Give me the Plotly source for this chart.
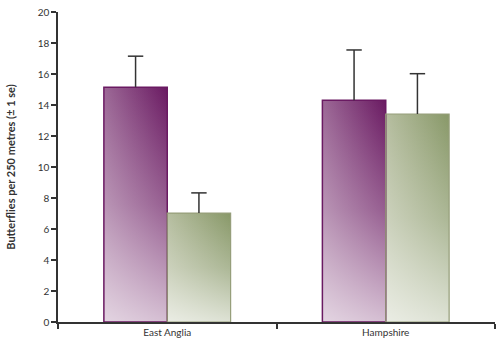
import plotly.graph_objects as go

# ---- data ----
categories = ["East Anglia", "Hampshire"]
series_a = [15.15, 14.3]      # purple bars
series_a_se = [2.0, 3.25]
series_b = [7.03, 13.42]      # green bars
series_b_se = [1.3, 2.6]
y_ticks = [0, 2, 4, 6, 8, 10, 12, 14, 16, 18, 20]

# ---- style ----
BARGAP = 0.42
bar_w = (1 - BARGAP) / 2
purple_dark = "rgb(106,26,98)"
purple_light = "rgb(156,104,150)"
green_dark = "rgb(136,152,104)"
green_light = "rgb(182,190,160)"
font_family = "Lato, 'Open Sans', sans-serif"
axis_col = "#333333"

fig = go.Figure()

x_pos = list(range(len(categories)))

def grad_bar(xc, offset, val, light, dark):
    x0 = xc + offset
    x1 = x0 + bar_w
    xs = [x0, x1, x1, x0, x0]
    ys = [0, 0, val, val, 0]
    fig.add_trace(go.Scatter(
        x=xs, y=ys, mode="lines", fill="toself", line=dict(width=0),
        fillgradient=dict(type="horizontal", colorscale=[[0, light], [1, dark]]),
        hoverinfo="skip", showlegend=False))
    fig.add_trace(go.Scatter(
        x=xs, y=ys, mode="lines", fill="toself", line=dict(width=0),
        fillgradient=dict(type="vertical", colorscale=[
            [0, "rgba(255,255,255,0.72)"], [0.5, "rgba(255,255,255,0.3)"],
            [1, "rgba(255,255,255,0)"]]),
        hoverinfo="skip", showlegend=False))

for i, xc in enumerate(x_pos):
    grad_bar(xc, -bar_w, series_a[i], purple_light, purple_dark)
    grad_bar(xc, 0, series_b[i], green_light, green_dark)

# bar outlines and error stems on overlaying axes (drawn on top)
fig.add_trace(go.Bar(
    x=x_pos, y=series_a, xaxis="x2", yaxis="y2",
    marker=dict(color="rgba(0,0,0,0)", line=dict(color=purple_dark, width=1.5)),
    error_y=dict(type="data", array=series_a_se, arrayminus=[0] * len(series_a),
                 symmetric=False, color=axis_col, thickness=1.5, width=0),
    showlegend=False, hoverinfo="skip"))
fig.add_trace(go.Bar(
    x=x_pos, y=series_b, xaxis="x2", yaxis="y2",
    marker=dict(color="rgba(0,0,0,0)", line=dict(color="rgb(150,158,122)", width=1.2)),
    error_y=dict(type="data", array=series_b_se, arrayminus=[0] * len(series_b),
                 symmetric=False, color=axis_col, thickness=1.5, width=0),
    showlegend=False, hoverinfo="skip"))

# caps at top of error bars only
cap_x = [xc - bar_w / 2 for xc in x_pos] + [xc + bar_w / 2 for xc in x_pos]
cap_y = [v + s for v, s in zip(series_a, series_a_se)] + \
        [v + s for v, s in zip(series_b, series_b_se)]
fig.add_trace(go.Scatter(
    x=cap_x, y=cap_y, xaxis="x2", yaxis="y2", mode="markers",
    marker=dict(symbol="line-ew", size=11, line=dict(color=axis_col, width=1.5)),
    showlegend=False, hoverinfo="skip"))

xr = [-0.5, len(categories) - 0.5]
yr = [0, 20]

fig.update_layout(
    width=500, height=347,
    margin=dict(l=58, r=5, t=8, b=25),
    paper_bgcolor="white", plot_bgcolor="white",
    barmode="group", bargap=BARGAP, bargroupgap=0,
    font=dict(family=font_family, size=10, color=axis_col),
    xaxis=dict(range=xr, tickmode="array", tickvals=x_pos, ticktext=categories,
               ticks="", showgrid=False, zeroline=False,
               showline=True, linecolor=axis_col, linewidth=1.5,
               tickfont=dict(size=10, color=axis_col),
               minor=dict(tick0=-0.5, dtick=1, ticks="outside", ticklen=5,
                          tickcolor=axis_col, tickwidth=1.5, showgrid=False)),
    yaxis=dict(range=yr, tickmode="array", tickvals=y_ticks,
               ticks="outside", ticklen=5, tickwidth=1.5, tickcolor=axis_col,
               showgrid=False, zeroline=False,
               showline=True, linecolor=axis_col, linewidth=1.5,
               tickfont=dict(size=10, color=axis_col),
               title=dict(text="<b>Butterflies per 250 metres (± 1 se)</b>",
                          font=dict(size=11, color=axis_col), standoff=20)),
    xaxis2=dict(range=xr, overlaying="x", visible=False),
    yaxis2=dict(range=yr, overlaying="y", visible=False),
)

fig.write_html("out.html")
